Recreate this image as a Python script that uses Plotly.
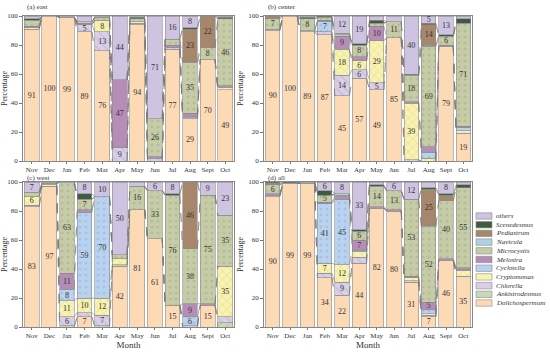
import plotly.graph_objects as go
from plotly.subplots import make_subplots

months = ["Nov", "Dec", "Jan", "Feb", "Mar", "Apr", "May", "Jun", "Jul", "Aug", "Sept", "Oct"]
species = ["Dolichospermum", "Ankistrodesmus", "Chlorella", "Cryptomonas", "Cyclotella",
           "Melosira", "Microcystis", "Navicula", "Pediastrum", "Scenedesmus", "others"]
panel_titles = ["(a) east", "(b) center", "(c) west", "(d) all"]

# ---- (a) east ----
east_Dolichospermum = [91, 100, 99, 89, 76, 0, 94, 0, 77, 29, 70, 49]
east_Ankistrodesmus = [0, 0, 0, 0, 0, 0, 0, 0, 0, 0, 0, 0]
east_Chlorella      = [0, 0, 0, 5, 13, 9, 1, 2, 1, 1, 0, 0]
east_Cryptomonas    = [1, 0, 0, 0, 8, 0, 1, 0, 0, 0, 0, 2]
east_Cyclotella     = [0, 0, 0, 0, 0, 0, 0, 0, 0, 1, 0, 0]
east_Melosira       = [1, 0, 0, 1, 0, 47, 0, 1, 2, 2, 0, 1]
east_Microcystis    = [4, 0, 0, 1, 2, 0, 2, 26, 4, 35, 8, 46]
east_Navicula       = [0, 0, 0, 0, 0, 0, 0, 0, 0, 0, 0, 0]
east_Pediastrum     = [0, 0, 0, 0, 0, 0, 0, 0, 0, 23, 22, 0]
east_Scenedesmus    = [1, 0, 0, 0, 0, 0, 1, 0, 0, 1, 0, 1]
east_others         = [2, 0, 1, 4, 1, 44, 1, 71, 16, 8, 0, 1]

# ---- (b) center ----
center_Dolichospermum = [90, 100, 89, 87, 45, 57, 49, 85, 0, 0, 79, 19]
center_Ankistrodesmus = [0, 0, 0, 0, 0, 0, 0, 0, 0, 0, 0, 0]
center_Chlorella      = [1, 0, 1, 2, 14, 6, 5, 0, 1, 0, 0, 0]
center_Cryptomonas    = [0, 0, 0, 0, 18, 6, 29, 0, 39, 2, 0, 2]
center_Cyclotella     = [0, 0, 0, 7, 0, 0, 0, 0, 0, 4, 0, 2]
center_Melosira       = [0, 0, 0, 1, 9, 3, 10, 0, 1, 4, 1, 1]
center_Microcystis    = [7, 0, 8, 2, 1, 8, 2, 11, 18, 69, 6, 71]
center_Navicula       = [0, 0, 0, 0, 1, 0, 0, 0, 0, 1, 0, 0]
center_Pediastrum     = [2, 0, 0, 0, 0, 0, 0, 0, 0, 14, 0, 0]
center_Scenedesmus    = [0, 0, 1, 1, 0, 1, 2, 0, 1, 1, 1, 3]
center_others         = [0, 0, 1, 0, 12, 19, 3, 4, 40, 5, 13, 2]

# ---- (c) west ----
west_Dolichospermum = [83, 97, 0, 7, 0, 42, 81, 61, 15, 0, 15, 0]
west_Ankistrodesmus = [0, 0, 1, 0, 1, 1, 0, 0, 0, 0, 0, 3]
west_Chlorella      = [1, 0, 6, 3, 7, 0, 0, 0, 0, 1, 0, 4]
west_Cryptomonas    = [6, 1, 11, 10, 12, 4, 0, 0, 0, 0, 0, 35]
west_Cyclotella     = [0, 0, 8, 59, 70, 0, 0, 0, 0, 6, 0, 0]
west_Melosira       = [0, 0, 11, 2, 0, 0, 0, 0, 0, 9, 1, 0]
west_Microcystis    = [3, 1, 63, 7, 0, 3, 16, 33, 76, 38, 75, 35]
west_Navicula       = [0, 0, 0, 0, 0, 0, 0, 0, 0, 0, 0, 0]
west_Pediastrum     = [0, 0, 0, 0, 0, 0, 0, 0, 0, 46, 0, 0]
west_Scenedesmus    = [0, 0, 0, 4, 0, 0, 0, 0, 1, 0, 0, 0]
west_others         = [7, 1, 0, 8, 10, 50, 3, 6, 8, 0, 9, 23]

# ---- (d) all ----
all_Dolichospermum = [90, 99, 99, 34, 22, 44, 82, 80, 31, 7, 46, 35]
all_Ankistrodesmus = [0, 0, 0, 0, 0, 0, 0, 0, 0, 0, 0, 0]
all_Chlorella      = [1, 0, 0, 3, 9, 4, 0, 0, 1, 1, 0, 0]
all_Cryptomonas    = [0, 0, 0, 7, 12, 4, 0, 0, 2, 1, 0, 4]
all_Cyclotella     = [0, 0, 0, 41, 45, 1, 0, 0, 0, 3, 0, 1]
all_Melosira       = [1, 0, 0, 1, 2, 7, 1, 1, 1, 5, 1, 1]
all_Microcystis    = [6, 0, 1, 5, 1, 6, 14, 13, 53, 52, 40, 55]
all_Navicula       = [0, 0, 0, 0, 1, 0, 0, 0, 0, 1, 0, 0]
all_Pediastrum     = [1, 0, 0, 0, 0, 0, 0, 0, 0, 25, 4, 0]
all_Scenedesmus    = [1, 1, 0, 3, 0, 1, 1, 0, 0, 1, 1, 2]
all_others         = [0, 0, 0, 6, 8, 33, 2, 6, 12, 4, 8, 2]

panels = [
    [east_Dolichospermum, east_Ankistrodesmus, east_Chlorella, east_Cryptomonas, east_Cyclotella,
     east_Melosira, east_Microcystis, east_Navicula, east_Pediastrum, east_Scenedesmus, east_others],
    [center_Dolichospermum, center_Ankistrodesmus, center_Chlorella, center_Cryptomonas, center_Cyclotella,
     center_Melosira, center_Microcystis, center_Navicula, center_Pediastrum, center_Scenedesmus, center_others],
    [west_Dolichospermum, west_Ankistrodesmus, west_Chlorella, west_Cryptomonas, west_Cyclotella,
     west_Melosira, west_Microcystis, west_Navicula, west_Pediastrum, west_Scenedesmus, west_others],
    [all_Dolichospermum, all_Ankistrodesmus, all_Chlorella, all_Cryptomonas, all_Cyclotella,
     all_Melosira, all_Microcystis, all_Navicula, all_Pediastrum, all_Scenedesmus, all_others],
]

# ---- styles ----
colors = {
    "Dolichospermum": "#FDDAB6",
    "Ankistrodesmus": "#C9D9B6",
    "Chlorella": "#D9CFEA",
    "Cryptomonas": "#F9F3AE",
    "Cyclotella": "#B8D3F2",
    "Melosira": "#B68DB6",
    "Microcystis": "#C6CCA6",
    "Navicula": "#ABD4E0",
    "Pediastrum": "#A7876B",
    "Scenedesmus": "#3F5C42",
    "others": "#CEC3E1",
}
patterns = {
    "Dolichospermum": "",
    "Ankistrodesmus": "/",
    "Chlorella": "\\",
    "Cryptomonas": "x",
    "Cyclotella": ".",
    "Melosira": "",
    "Microcystis": ".",
    "Navicula": "-",
    "Pediastrum": "",
    "Scenedesmus": "",
    "others": "",
}

W, H = 550, 357
def px_x(v):
    return v / W
def px_y(v):
    return 1 - v / H

fig = make_subplots(rows=2, cols=2)
xdom = [(px_x(23), px_x(234)), (px_x(264), px_x(472))]
ydom = [(px_y(161), px_y(16)), (px_y(327), px_y(182))]
title_y = [7, 177.5]

FONT = "Liberation Serif"
BW = 0.84
xpos = list(range(len(months)))

for p, data in enumerate(panels):
    r, c = p // 2 + 1, p % 2 + 1
    for s, name in enumerate(species):
        vals = data[s]
        yv = [v if v > 0 else None for v in vals]
        txt = [str(v) if v >= 5 else "" for v in vals]
        fig.add_trace(go.Bar(
            x=xpos, y=yv, width=BW, name=name, showlegend=False,
            marker=dict(color=colors[name], line=dict(color="#8a8a8a", width=0.6),
                        pattern=dict(shape=patterns[name], fgcolor="#7d7d7d", fgopacity=0.22,
                                     size=6, solidity=0.2)),
            text=txt, textposition="inside", insidetextanchor="middle", textangle=0,
            textfont=dict(size=8, color="#333333", family=FONT),
            hoverinfo="skip",
        ), row=r, col=c)
    # connector lines between adjacent stacks
    cum = []
    run = [0] * len(months)
    for s in range(len(species)):
        run = [run[i] + data[s][i] for i in range(len(months))]
        cum.append(run)
    cx, cy = [], []
    for lvl in cum:
        for i in range(len(months) - 1):
            cx += [i + BW / 2, i + 1 - BW / 2, None]
            cy += [lvl[i], lvl[i + 1], None]
    fig.add_trace(go.Scatter(x=cx, y=cy, mode="lines", showlegend=False, hoverinfo="skip",
                             line=dict(color="#7a7a7a", width=0.6, dash="dash")), row=r, col=c)

fig.update_layout(barmode="stack", bargap=0.16, plot_bgcolor="white", paper_bgcolor="white",
                  width=W, height=H, margin=dict(l=0, r=0, t=0, b=0),
                  font=dict(family=FONT, size=8, color="#333333"),
                  uniformtext=dict(minsize=8, mode="show"))

for p in range(4):
    r, c = p // 2, p % 2
    ax = "" if p == 0 else str(p + 1)
    fig.layout["xaxis" + ax].update(
        domain=xdom[c], range=[-0.5, len(months) - 0.5], tickvals=xpos, ticktext=months,
        ticks="outside", ticklen=2, tickcolor="#777", showline=True, linecolor="#888",
        linewidth=0.8, mirror=True, showgrid=False, zeroline=False,
        tickfont=dict(size=7, family=FONT, color="#333"), automargin=False,
        title=dict(text="Month" if r == 1 else "", font=dict(size=9, family=FONT), standoff=2))
    fig.layout["yaxis" + ax].update(
        domain=ydom[r], range=[0, 100], tickvals=[0, 20, 40, 60, 80, 100],
        ticks="outside", ticklen=3, tickcolor="#777", showline=True, linecolor="#888",
        linewidth=0.8, mirror=True, showgrid=False, zeroline=False,
        tickfont=dict(size=7, family=FONT, color="#333"), automargin=False,
        title=dict(text="Percentage", font=dict(size=8, family=FONT), standoff=3))
    fig.add_annotation(xref="paper", yref="paper", x=xdom[c][0] + px_x(3),
                       y=px_y(title_y[r]), borderpad=0,
                       text=panel_titles[p], showarrow=False, xanchor="left", yanchor="middle",
                       font=dict(size=7, family=FONT, color="#333"))

# legend drawn as shapes + labels
leg_x0, leg_x1, leg_tx = 476, 492, 495
leg_top, leg_step, leg_h = 216, 8.7, 6.4
for k, name in enumerate(reversed(species)):
    yc = leg_top + k * leg_step
    fig.add_shape(type="rect", xref="paper", yref="paper",
                  x0=px_x(leg_x0), x1=px_x(leg_x1), y0=px_y(yc + leg_h / 2), y1=px_y(yc - leg_h / 2),
                  fillcolor=colors[name], line=dict(color="#8a8a8a", width=0.6))
    fig.add_annotation(xref="paper", yref="paper", x=px_x(leg_tx), y=px_y(yc), borderpad=0,
                       text="<i>" + name + "</i>", showarrow=False, xanchor="left", yanchor="middle",
                       font=dict(size=7, family=FONT, color="#333"))

fig.write_html("out.html", config={"displayModeBar": False},
               post_script="document.body.style.margin='0';document.body.style.overflow='hidden';")
